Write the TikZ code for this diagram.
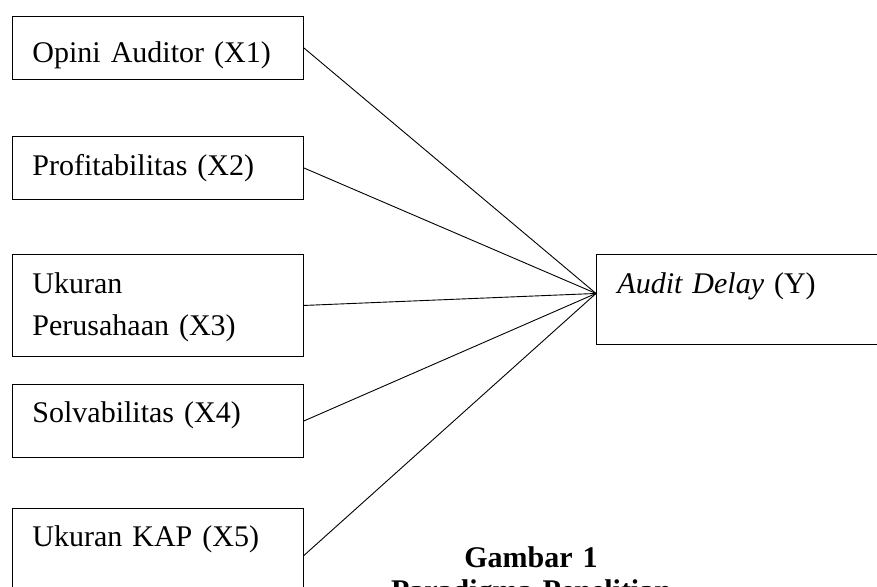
\documentclass[tikz,border=0pt]{standalone}
\usepackage{fontspec}
\setmainfont{Liberation Serif}
\usetikzlibrary{positioning,calc}

\begin{document}
\begin{tikzpicture}[x=1pt,y=-1pt,line width=0.9pt,
    varbox/.style={draw,rectangle,anchor=north west,inner xsep=20pt,inner ysep=0pt,
        text width=251pt,align=left,font=\fontsize{30}{42}\selectfont}]
        \useasboundingbox (0,0) rectangle (877,586);
        \clip (0,0) rectangle (877,586);
        % Variabel independen
        \node[varbox,text height=46pt,text depth=17pt] (x1) at (12,16) {Opini Auditor (X1)};
        \node[varbox,text height=39pt,text depth=24pt] (x2) at (12,136) {Profitabilitas (X2)};
        \node[varbox,text height=39pt,text depth=63pt] (x3) at (12,254) {Ukuran\\Perusahaan (X3)};
        \node[varbox,text height=38pt,text depth=35pt] (x4) at (12,384) {Solvabilitas (X4)};
        \node[varbox,text height=38pt,text depth=56pt] (x5) at (12,508) {Ukuran KAP (X5)};
        
        % Variabel dependen
        \node[varbox,inner xsep=21pt,text width=262pt,text height=39pt,text depth=51pt] (y) at (596,254) {\textit{Audit Delay} (Y)};
        \coordinate (conv) at ([yshift=6pt]y.west);
        
        % Garis
        \foreach \i in {1,...,5} {
            \draw (x\i.east) -- (conv);
        }
        
        % Judul
        \node[anchor=base,inner sep=0pt,text width=320pt,align=center,
            font=\fontsize{30}{33}\selectfont\bfseries] (caption) at (531,567) {Gambar 1\\Paradigma Penelitian};
    \end{tikzpicture}
\end{document}
